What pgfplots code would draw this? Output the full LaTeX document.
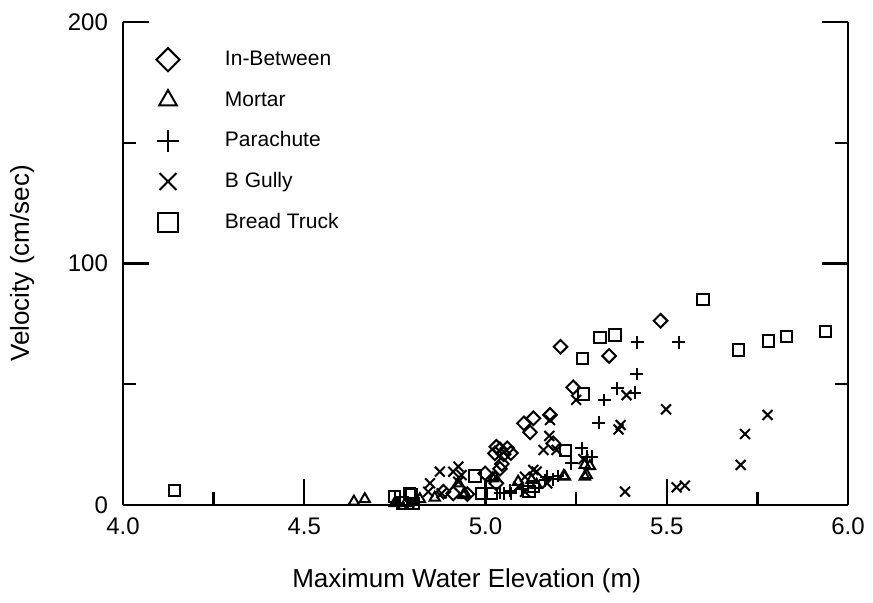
\documentclass[border=0pt]{standalone}
\usepackage{fontspec}
\setmainfont{Liberation Sans}
\usepackage{pgfplots}
\pgfplotsset{compat=1.18}
\begin{document}
\begin{tikzpicture}
\useasboundingbox (-61.5pt,-49pt) rectangle (375pt,252.5pt);
\begin{axis}[
 scale only axis, width=362.5pt, height=241.5pt,
 xmin=4, xmax=6, ymin=0, ymax=200,
 axis x line=bottom, axis y line=box,
 x axis line style={-}, y axis line style={-},
 axis line style={line width=1.2pt},
 tick align=inside,
 every tick/.style={black, line width=1.2pt},
 major tick length=13pt, minor tick length=6.5pt,
 xtick={4,4.5,5,5.5,6}, xticklabels={4.0,4.5,5.0,5.5,6.0},
 minor xtick={4.25,4.75,5.25,5.75},
 ytick={0,100,200}, yticklabels={0,100,200},
 minor ytick={50,150},
 /pgf/number format/assume math mode=true,
 ticklabel style={font=\fontsize{12}{14}\selectfont},
 xticklabel style={yshift=-3pt},
 yticklabel style={xshift=-4pt},
 xlabel={Maximum Water Elevation (m)},
 ylabel={Velocity (cm/sec)},
 label style={font=\fontsize{13}{15}\selectfont},
 xlabel style={at={(axis description cs:0.474,-0.157)}, anchor=center},
 ylabel style={at={(axis description cs:-0.139,0.5)}, anchor=center, rotate=0},
 clip=false,
 legend image code/.code={\path (-6pt,-6pt) (28pt,6pt);\draw[#1, /tikz/every mark/.append style={scale=1.7}] plot coordinates {(0pt,0pt)};},
 legend style={draw=none, fill=none, at={(axis description cs:0.0353,0.958)}, anchor=north west,
   font=\fontsize{10.5}{12}\selectfont, row sep=7.3pt, nodes={inner sep=0pt}},
 legend cell align=left,
]
\addplot[only marks, black, line width=1pt, mark=square, mark size=2.4pt, mark options={rotate=45, solid, fill=none}] coordinates {
(4.884,5.5) (4.911,4.8) (4.95,4.5) (4.999,13.1) (5.03,9) (5.026,21.4) (5.03,24.1)
(5.04,23) (5.05,21) (5.06,23.5) (5.045,17) (5.04,15) (5.07,21.5) (5.106,33.8)
(5.123,30.1) (5.132,35.9) (5.178,37.3) (5.187,25.5) (5.207,65.5) (5.242,48.7)
(5.341,61.7) (5.483,76.3)
};
\addlegendentry{In-Between}
\addplot[only marks, black, line width=1pt, mark=triangle, mark size=3pt, mark options={solid, fill=none}] coordinates {
(4.637,1.4) (4.667,2.4) (4.75,0.8) (4.78,0.8) (4.819,2.4) (4.86,3) (4.939,4.1)
(4.943,4.8) (4.925,9) (5.02,11) (5.026,11.5) (5.09,9.6) (5.127,10.4) (5.141,8.3)
(5.216,12) (5.219,11.7) (5.274,11.7) (5.279,12.4) (5.288,16.1) (5.274,16.6)
};
\addlegendentry{Mortar}
\addplot[only marks, black, line width=1pt, mark=+, mark size=3.2pt, mark options={solid}] coordinates {
(4.76,0.8) (4.80,0.8) (5.04,5.1) (5.068,5.9) (5.05,4.8) (5.07,4.8) (5.1,6.5)
(5.164,10.3) (5.169,11.7) (5.187,10.6) (5.2,12) (5.237,17.3) (5.265,23.5) (5.28,20)
(5.293,20) (5.312,34.1) (5.328,43.5) (5.364,48.3) (5.412,46.5) (5.417,54.2)
(5.419,67.4) (5.533,67.4)
};
\addlegendentry{Parachute}
\addplot[only marks, black, line width=1pt, mark=x, mark size=3.5pt, mark options={solid}] coordinates {
(4.79,1) (4.842,5.5) (4.847,9) (4.874,13.8) (4.879,4.8) (4.911,13.8) (4.925,15.9)
(4.925,9.6) (4.934,12.4) (5.091,7.6) (5.109,11.7) (5.109,5.5) (5.132,14.5)
(5.141,13.8) (5.16,22.8) (5.176,28.6) (5.178,35.2) (5.196,22.8) (5.17,9) (5.25,43.5)
(5.27,19) (5.367,31.3) (5.373,33.1) (5.389,45.5) (5.385,5.5) (5.498,39.6)
(5.527,7.3) (5.55,8.0) (5.704,16.6) (5.716,29.4) (5.778,37.3)
};
\addlegendentry{B Gully}
\addplot[only marks, black, line width=1pt, mark=square, mark size=2.8pt, mark options={solid, fill=none}] coordinates {
(4.143,5.9) (4.75,3.4) (4.796,4.1) (4.77,0.8) (4.80,0.5) (4.79,4.8) (4.971,12.0)
(4.99,4.8) (5.017,4.8) (5.132,7.6) (5.12,5.5) (5.221,22.5) (5.27,46.0) (5.268,60.5)
(5.316,69.4) (5.357,70.4) (5.60,85) (5.697,64.2) (5.78,67.9) (5.83,69.7) (5.938,71.8)
};
\addlegendentry{Bread Truck}
\end{axis}
\end{tikzpicture}
\end{document}
